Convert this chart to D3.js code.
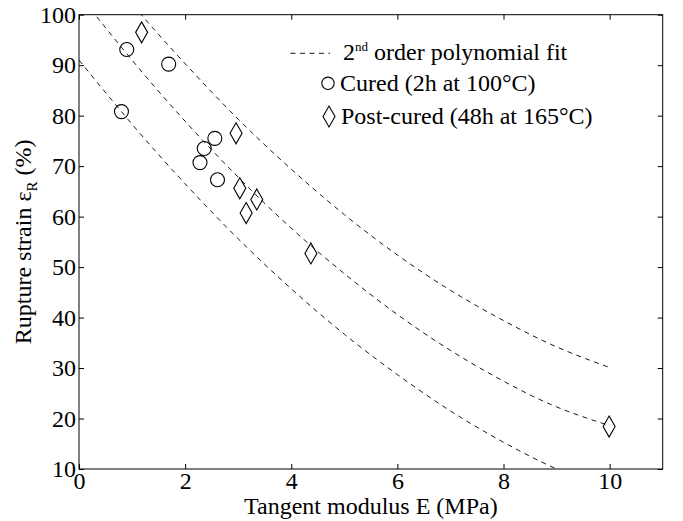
<!DOCTYPE html>
<html>
<head>
<meta charset="utf-8">
<script src="https://cdn.jsdelivr.net/npm/d3@7"></script>
<style>
  body { margin: 0; background: #fff; }
</style>
</head>
<body>
<div id="chart"></div>
<script>
// values
const curedE = [0.80, 0.90, 1.69, 2.28, 2.36, 2.56, 2.61];
const curedStrain = [80.8, 93.1, 90.2, 70.7, 73.5, 75.5, 67.3];
const postE = [1.18, 2.96, 3.03, 3.15, 3.35, 4.37, 9.99];
const postStrain = [96.5, 76.5, 65.6, 60.7, 63.4, 52.7, 18.4];

// dashed fit curves at E = 0..10
const fitE = [0, 1, 2, 3, 4, 5, 6, 7, 8, 9, 10];
const fitLower = [91.0, 78.3, 66.5, 55.6, 45.7, 36.7, 28.7, 21.5, 15.3, 10.0, 5.7];
const fitMiddle = [104.0, 91.0, 78.9, 67.8, 57.7, 48.7, 40.6, 33.5, 27.4, 22.3, 18.6];
const fitUpper = [115.0, 102.1, 90.3, 79.3, 69.4, 60.4, 52.4, 45.4, 39.4, 34.2, 30.1];

const xTicks = [0, 2, 4, 6, 8, 10];
const yTicks = [10, 20, 30, 40, 50, 60, 70, 80, 90, 100];

const FONT = "'Liberation Serif'";

const svgWidth = 683;
const svgHeight = 521;
const margin = { top: 14.7, right: 20.3, bottom: 52, left: 79 };
const width = svgWidth - margin.left - margin.right;
const height = svgHeight - margin.top - margin.bottom;

const svg = d3.select("#chart").append("svg")
  .attr("width", svgWidth)
  .attr("height", svgHeight);

const chart = svg.append("g")
  .attr("transform", `translate(${margin.left},${margin.top})`);

const x = d3.scaleLinear().domain([0, 11]).range([0, width]);
const y = d3.scaleLinear().domain([10, 100]).range([height, 0]);

svg.append("defs").append("clipPath").attr("id", "plot-clip")
  .append("rect").attr("width", width).attr("height", height);

// axes, ticks pointing inward on all four sides
function styleAxis(g) {
  g.select(".domain").remove();
  g.selectAll("line").attr("stroke", "#000");
  g.selectAll("text").attr("fill", "#000").attr("font-size", 24);
}

chart.append("g")
  .attr("transform", `translate(0,${height})`)
  .call(d3.axisBottom(x).tickValues(xTicks).tickSize(-5).tickPadding(3).tickFormat(d3.format("d")))
  .call(styleAxis);
chart.append("g")
  .call(d3.axisLeft(y).tickValues(yTicks).tickSize(-5).tickPadding(3).tickFormat(d3.format("d")))
  .call(styleAxis);
chart.append("g")
  .call(d3.axisTop(x).tickValues(xTicks).tickSize(-5).tickFormat(""))
  .call(styleAxis);
chart.append("g")
  .attr("transform", `translate(${width},0)`)
  .call(d3.axisRight(y).tickValues(yTicks).tickSize(-5).tickFormat(""))
  .call(styleAxis);

chart.append("rect")
  .attr("width", width)
  .attr("height", height)
  .attr("fill", "none")
  .attr("stroke", "#000")
  .attr("stroke-width", 1);

// fit curves
const line = d3.line()
  .x(d => x(d[0]))
  .y(d => y(d[1]))
  .curve(d3.curveNatural);

const curves = [fitLower, fitMiddle, fitUpper];
chart.append("g").attr("clip-path", "url(#plot-clip)")
  .selectAll("path")
  .data(curves)
  .join("path")
  .attr("d", vals => line(fitE.map((e, i) => [e, vals[i]])))
  .attr("fill", "none")
  .attr("stroke", "#000")
  .attr("stroke-width", 0.9)
  .attr("stroke-dasharray", "5,4.5");

// markers
const diamond = (cx, cy) => `M${cx},${cy - 10.5}L${cx + 6},${cy}L${cx},${cy + 10.5}L${cx - 6},${cy}Z`;

chart.selectAll(".cured")
  .data(curedE.map((e, i) => [e, curedStrain[i]]))
  .join("circle")
  .attr("class", "cured")
  .attr("cx", d => x(d[0]))
  .attr("cy", d => y(d[1]))
  .attr("r", 7)
  .attr("fill", "none")
  .attr("stroke", "#000")
  .attr("stroke-width", 1.1);

chart.selectAll(".post")
  .data(postE.map((e, i) => [e, postStrain[i]]))
  .join("path")
  .attr("class", "post")
  .attr("d", d => diamond(x(d[0]), y(d[1])))
  .attr("fill", "none")
  .attr("stroke", "#000")
  .attr("stroke-width", 1.1);

// legend
const legend = svg.append("g");
legend.append("line")
  .attr("x1", 290.5).attr("x2", 330)
  .attr("y1", 53.3).attr("y2", 53.3)
  .attr("stroke", "#000")
  .attr("stroke-width", 0.9)
  .attr("stroke-dasharray", "5,4.5");
const t1 = legend.append("text").attr("x", 343).attr("y", 60).attr("font-size", 24);
t1.append("tspan").text("2");
t1.append("tspan").attr("dy", -9).attr("font-size", 13).text("nd");
t1.append("tspan").attr("dy", 9).text(" order polynomial fit");

legend.append("circle")
  .attr("cx", 328).attr("cy", 83.3).attr("r", 6.2)
  .attr("fill", "none").attr("stroke", "#000").attr("stroke-width", 1.1);
legend.append("text").attr("x", 340).attr("y", 91).attr("font-size", 24).text("Cured (2h at 100°C)");

legend.append("path")
  .attr("d", diamond(329, 116.5))
  .attr("fill", "none").attr("stroke", "#000").attr("stroke-width", 1.1);
legend.append("text").attr("x", 341).attr("y", 124).attr("font-size", 24).text("Post-cured (48h at 165°C)");

// axis titles
svg.append("text")
  .attr("x", margin.left + width / 2)
  .attr("y", 514)
  .attr("text-anchor", "middle")
  .attr("font-size", 24)
  .text("Tangent modulus E (MPa)");

const yt = svg.append("text")
  .attr("transform", `translate(31,${margin.top + height / 2}) rotate(-90)`)
  .attr("text-anchor", "middle")
  .attr("font-size", 24);
yt.append("tspan").text("Rupture strain ε");
yt.append("tspan").attr("dy", 6).attr("font-size", 15).text("R");
yt.append("tspan").attr("dy", -6).text(" (%)");

// serif face on every text
svg.selectAll("text").attr("font-family", FONT);
</script>
</body>
</html>
